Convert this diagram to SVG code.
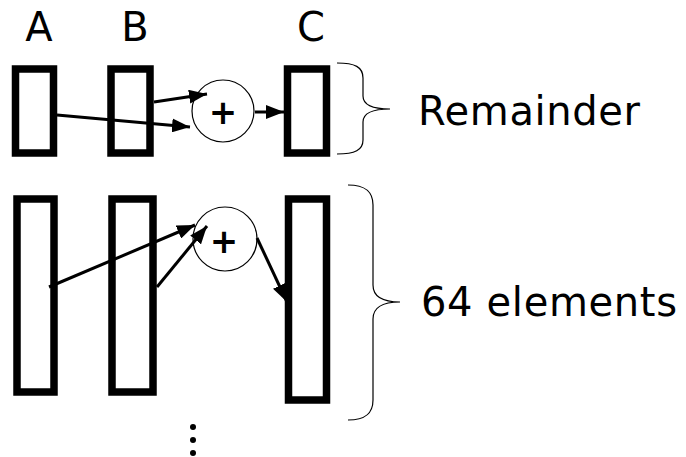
<svg xmlns="http://www.w3.org/2000/svg" width="686" height="457" viewBox="0 0 686 457">
<defs>
<style>
.arr{fill:none;stroke:#000;stroke-width:7.5}
.op{fill:#fff;stroke:#000;stroke-width:1.2}
.plus{font-family:"DejaVu Sans",Verdana,sans-serif;font-size:34px;font-weight:bold;text-anchor:middle}
.lbl{font-family:"DejaVu Sans",Verdana,sans-serif;font-size:40px;fill:#000}
.cn{fill:none;stroke:#000;stroke-width:3}
.br{fill:none;stroke:#000;stroke-width:1.2}
</style>
<marker id="ah" markerUnits="userSpaceOnUse" markerWidth="19" markerHeight="14" refX="18" refY="7" orient="auto">
<path d="M0,0 L18,7 L0,14 z" fill="#000"/>
</marker>
</defs>
<rect width="686" height="457" fill="#fff"/>
<g id="labels">
<text class="lbl" x="39" y="41" text-anchor="middle">A</text>
<text class="lbl" x="135" y="41" text-anchor="middle">B</text>
<text class="lbl" x="311" y="41" text-anchor="middle">C</text>
</g>
<g id="A-rem"><rect class="arr" x="15.5" y="69" width="38" height="84"/></g>
<g id="B-rem"><rect class="arr" x="111" y="69" width="39" height="84"/></g>
<g id="C-rem"><rect class="arr" x="287.5" y="69" width="39" height="84"/></g>
<g id="add-rem"><circle class="op" cx="223" cy="111" r="31"/><text class="plus" x="223" y="124">+</text></g>
<g id="A-main"><rect class="arr" x="17" y="199" width="37" height="193"/></g>
<g id="B-main"><rect class="arr" x="112" y="199" width="41" height="193"/></g>
<g id="C-main"><rect class="arr" x="288.5" y="199" width="38" height="201"/></g>
<g id="add-main"><circle class="op" cx="225" cy="239" r="32"/><text class="plus" x="224" y="253">+</text></g>
<g id="connectors">
<line class="cn" x1="57" y1="115" x2="190" y2="127" marker-end="url(#ah)"/>
<line class="cn" x1="154" y1="102" x2="207" y2="94" marker-end="url(#ah)"/>
<line class="cn" x1="255" y1="112" x2="284" y2="112" marker-end="url(#ah)"/>
<line class="cn" x1="49" y1="287" x2="195" y2="225" marker-end="url(#ah)"/>
<line class="cn" x1="157" y1="287" x2="207" y2="226" marker-end="url(#ah)"/>
<line class="cn" x1="257" y1="238" x2="287" y2="302" marker-end="url(#ah)"/>
</g>
<g id="brace-rem">
<path class="br" d="M337,63 C355,63 363,67 363,78 L363,96 C363,104 370,109 390,109 C370,109 363,114 363,122 L363,140 C363,150 355,154 337,154"/>
<text class="lbl" x="418" y="125" textLength="222">Remainder</text>
</g>
<g id="brace-main">
<path class="br" d="M348,185 C366,185 373,192 373,205 L373,285 C373,295 380,302 400,302 C380,302 373,309 373,319 L373,400 C373,413 366,420 348,420"/>
<text class="lbl" x="421" y="316" textLength="256">64 elements</text>
</g>
<g id="dots">
<circle cx="193" cy="427" r="3"/>
<circle cx="193" cy="440" r="3"/>
<circle cx="193" cy="453" r="3"/>
</g>
</svg>
